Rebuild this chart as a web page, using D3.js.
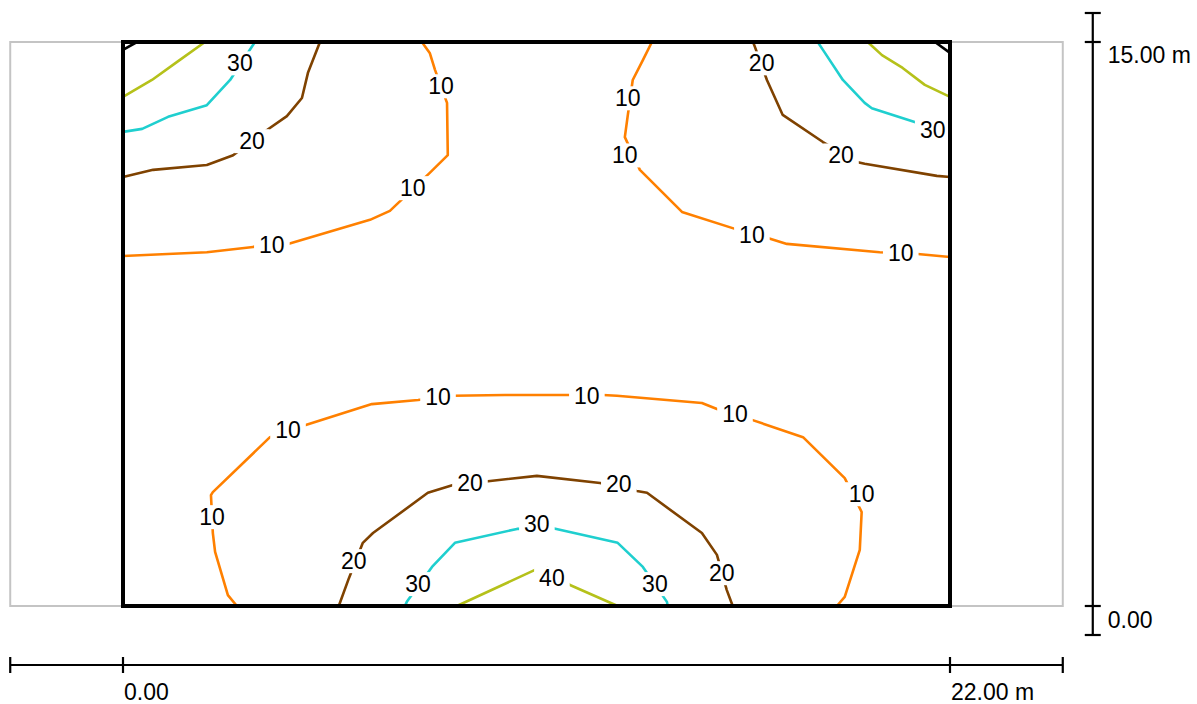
<!DOCTYPE html>
<html>
<head>
<meta charset="utf-8">
<script src="https://cdn.jsdelivr.net/npm/d3@7"></script>
<style>
  html, body { margin: 0; padding: 0; background: #fff; }
  svg { display: block; }
  text { font-family: "Liberation Sans", Arial, sans-serif; }
</style>
</head>
<body>
<div id="chart"></div>
<script>
// ---- data (metres) ----
const roomWidth = 22, roomDepth = 15;
const areaX = [-3, 25];            // calculation (grey) area extent
const xTickValues = [0, 22];
const yTickValues = [0, 15];
const levels = [10, 20, 30, 40, 50];
const levelColors = ["#ff8000", "#7f4200", "#1fcfcf", "#b5c11a", "#000000"];

// contour polylines [x, y] in metres
const c10Left = [[0,9.31],[2.23,9.41],[3.46,9.55],[4.39,9.63],[6.57,10.27],[7.10,10.51],[8.16,11.52],[8.64,11.99],[8.62,13.38],[8.30,14.26],[8.16,14.71],[7.95,15]];
const c10Right = [[14.07,15],[13.83,14.52],[13.56,13.99],[13.43,13.06],[13.35,12.47],[13.75,11.60],[14.87,10.48],[16.28,10.03],[17.15,9.79],[17.66,9.63],[20.13,9.41],[21.14,9.36],[22,9.28]];
const c10Bottom = [[3.03,0],[2.79,0.29],[2.45,1.44],[2.39,1.94],[2.34,2.95],[2.39,3.03],[3.91,4.49],[4.84,4.81],[6.62,5.37],[7.85,5.48],[8.78,5.59],[10.16,5.61],[11.84,5.61],[12.77,5.61],[13.14,5.59],[15.40,5.40],[15.80,5.24],[16.73,4.95],[18.09,4.49],[19.20,3.40],[19.65,2.50],[19.60,1.49],[19.20,0.24],[18.99,0]];
const c20TopLeft = [[0,11.41],[0.80,11.60],[2.23,11.73],[2.93,11.99],[3.83,12.66],[4.36,13.03],[4.76,13.51],[4.92,14.18],[5.24,15]];
const c20TopRight = [[16.76,15],[16.81,14.87],[17.13,13.99],[17.55,13.06],[18.62,12.34],[19.52,11.81],[19.73,11.76],[21.65,11.44],[22,11.41]];
const c20Bottom = [[5.74,0],[6.01,0.74],[6.38,1.68],[6.65,1.94],[8.11,3.01],[8.78,3.22],[9.71,3.32],[11.01,3.46],[12.69,3.27],[13.67,3.06],[13.94,3.01],[15.40,1.94],[15.80,1.36],[16.06,0.43],[16.22,0]];
const c30TopLeft = [[0,12.61],[0.51,12.69],[1.20,13.01],[2.23,13.32],[2.85,13.99],[3.51,15]];
const c30TopRight = [[18.48,15],[18.62,14.79],[19.15,13.99],[19.73,13.38],[19.92,13.24],[21.06,12.87],[22,12.55]];
const c30Bottom = [[7.50,0],[7.55,0.11],[8.22,1.04],[8.83,1.68],[10.48,2.05],[11.44,2.07],[13.16,1.68],[13.83,1.04],[14.47,0.11],[14.49,0]];
const c40TopLeft = [[0,13.54],[0.77,13.99],[1.44,14.47],[2.18,15]];
const c40TopRight = [[19.81,15],[20.19,14.65],[20.74,14.31],[21.33,13.86],[22,13.54]];
const c40Bottom = [[8.88,0],[10.96,0.96],[11.30,1.01],[11.89,0.56],[13.16,0]];
const c50TopLeft = [[0,14.79],[0.37,15]];
const c50TopRight = [[21.60,15],[22,14.71]];

const contours = [
  {level: 10, pts: c10Left}, {level: 10, pts: c10Right}, {level: 10, pts: c10Bottom},
  {level: 20, pts: c20TopLeft}, {level: 20, pts: c20TopRight}, {level: 20, pts: c20Bottom},
  {level: 30, pts: c30TopLeft}, {level: 30, pts: c30TopRight}, {level: 30, pts: c30Bottom},
  {level: 40, pts: c40TopLeft}, {level: 40, pts: c40TopRight}, {level: 40, pts: c40Bottom},
  {level: 50, pts: c50TopLeft}, {level: 50, pts: c50TopRight}
];

// contour labels [x, y, value]
const contourLabels = [
  [3.96,9.60,10],[7.71,11.12,10],[8.46,13.83,10],
  [13.43,13.51,10],[13.35,11.99,10],[16.73,9.87,10],[20.69,9.39,10],
  [2.37,2.37,10],[4.39,4.68,10],[8.38,5.56,10],[12.34,5.59,10],[16.28,5.11,10],[19.65,2.98,10],
  [3.43,12.37,20],[16.99,14.44,20],[19.10,11.99,20],
  [6.14,1.20,20],[9.23,3.27,20],[13.19,3.24,20],[15.93,0.88,20],
  [3.11,14.44,30],[21.54,12.66,30],
  [7.85,0.59,30],[11.01,2.18,30],[14.15,0.59,30],
  [11.41,0.74,40]
];

// ---- drawing ----
const W = 1197, H = 704;
const FS = 23;
const svg = d3.select("#chart").append("svg").attr("width", W).attr("height", H);

const x = d3.scaleLinear().domain([0, roomWidth]).range([123, 950]);
const y = d3.scaleLinear().domain([0, roomDepth]).range([606, 42]);
const color = d3.scaleOrdinal().domain(levels).range(levelColors);

// grey calculation area
svg.append("rect")
  .attr("x", x(areaX[0])).attr("y", y(roomDepth))
  .attr("width", x(areaX[1]) - x(areaX[0])).attr("height", y(0) - y(roomDepth))
  .attr("fill", "none").attr("stroke", "#c4c4c4").attr("stroke-width", 2);

// contour lines
const line = d3.line().x(d => x(d[0])).y(d => y(d[1]));
svg.append("g").selectAll("path").data(contours).join("path")
  .attr("d", d => line(d.pts))
  .attr("fill", "none")
  .attr("stroke", d => color(d.level))
  .attr("stroke-width", 2.6)
  .attr("stroke-linejoin", "round");

// labels with white knockout
const lg = svg.append("g");
contourLabels.forEach(([lx, ly, v]) => {
  const g = lg.append("g");
  const rect = g.append("rect").attr("fill", "#fff");
  const t = g.append("text")
    .attr("x", x(lx)).attr("y", y(ly)).attr("dy", "0.36em")
    .attr("text-anchor", "middle").attr("font-size", FS).attr("fill", "#000")
    .text(v);
  const b = t.node().getBBox();
  rect.attr("x", b.x - 5).attr("y", b.y + 1).attr("width", b.width + 10).attr("height", b.height - 2);
});

// room outline
svg.append("rect")
  .attr("x", x(0)).attr("y", y(roomDepth))
  .attr("width", x(roomWidth) - x(0)).attr("height", y(0) - y(roomDepth))
  .attr("fill", "none").attr("stroke", "#000").attr("stroke-width", 4);

// vertical dimension line
const vx = x(areaX[1]) + 30, ext = 29, tk = 8;
const dim = svg.append("g").attr("stroke", "#000").attr("stroke-width", 2.2);
dim.append("line").attr("x1", vx).attr("x2", vx).attr("y1", y(roomDepth) - ext).attr("y2", y(0) + ext);
[y(roomDepth) - ext, y(roomDepth), y(0), y(0) + ext].forEach(py =>
  dim.append("line").attr("x1", vx - tk).attr("x2", vx + tk).attr("y1", py).attr("y2", py));

// horizontal dimension line
const hy = 665;
dim.append("line").attr("x1", x(areaX[0])).attr("x2", x(areaX[1])).attr("y1", hy).attr("y2", hy);
[x(areaX[0]), x(0), x(roomWidth), x(areaX[1])].forEach(px =>
  dim.append("line").attr("x1", px).attr("x2", px).attr("y1", hy - tk).attr("y2", hy + tk));

const fmt = (v, last) => v.toFixed(2) + (last ? " m" : "");
yTickValues.forEach((v, i) => {
  svg.append("text").attr("x", vx + 15)
    .attr("y", i === yTickValues.length - 1 ? y(v) + 21 : y(v) + 22)
    .attr("font-size", FS).attr("fill", "#000")
    .text(fmt(v, i === yTickValues.length - 1));
});
xTickValues.forEach((v, i) => {
  svg.append("text").attr("x", x(v) + 1).attr("y", 700)
    .attr("font-size", FS).attr("fill", "#000")
    .text(fmt(v, i === xTickValues.length - 1));
});
</script>
</body>
</html>
